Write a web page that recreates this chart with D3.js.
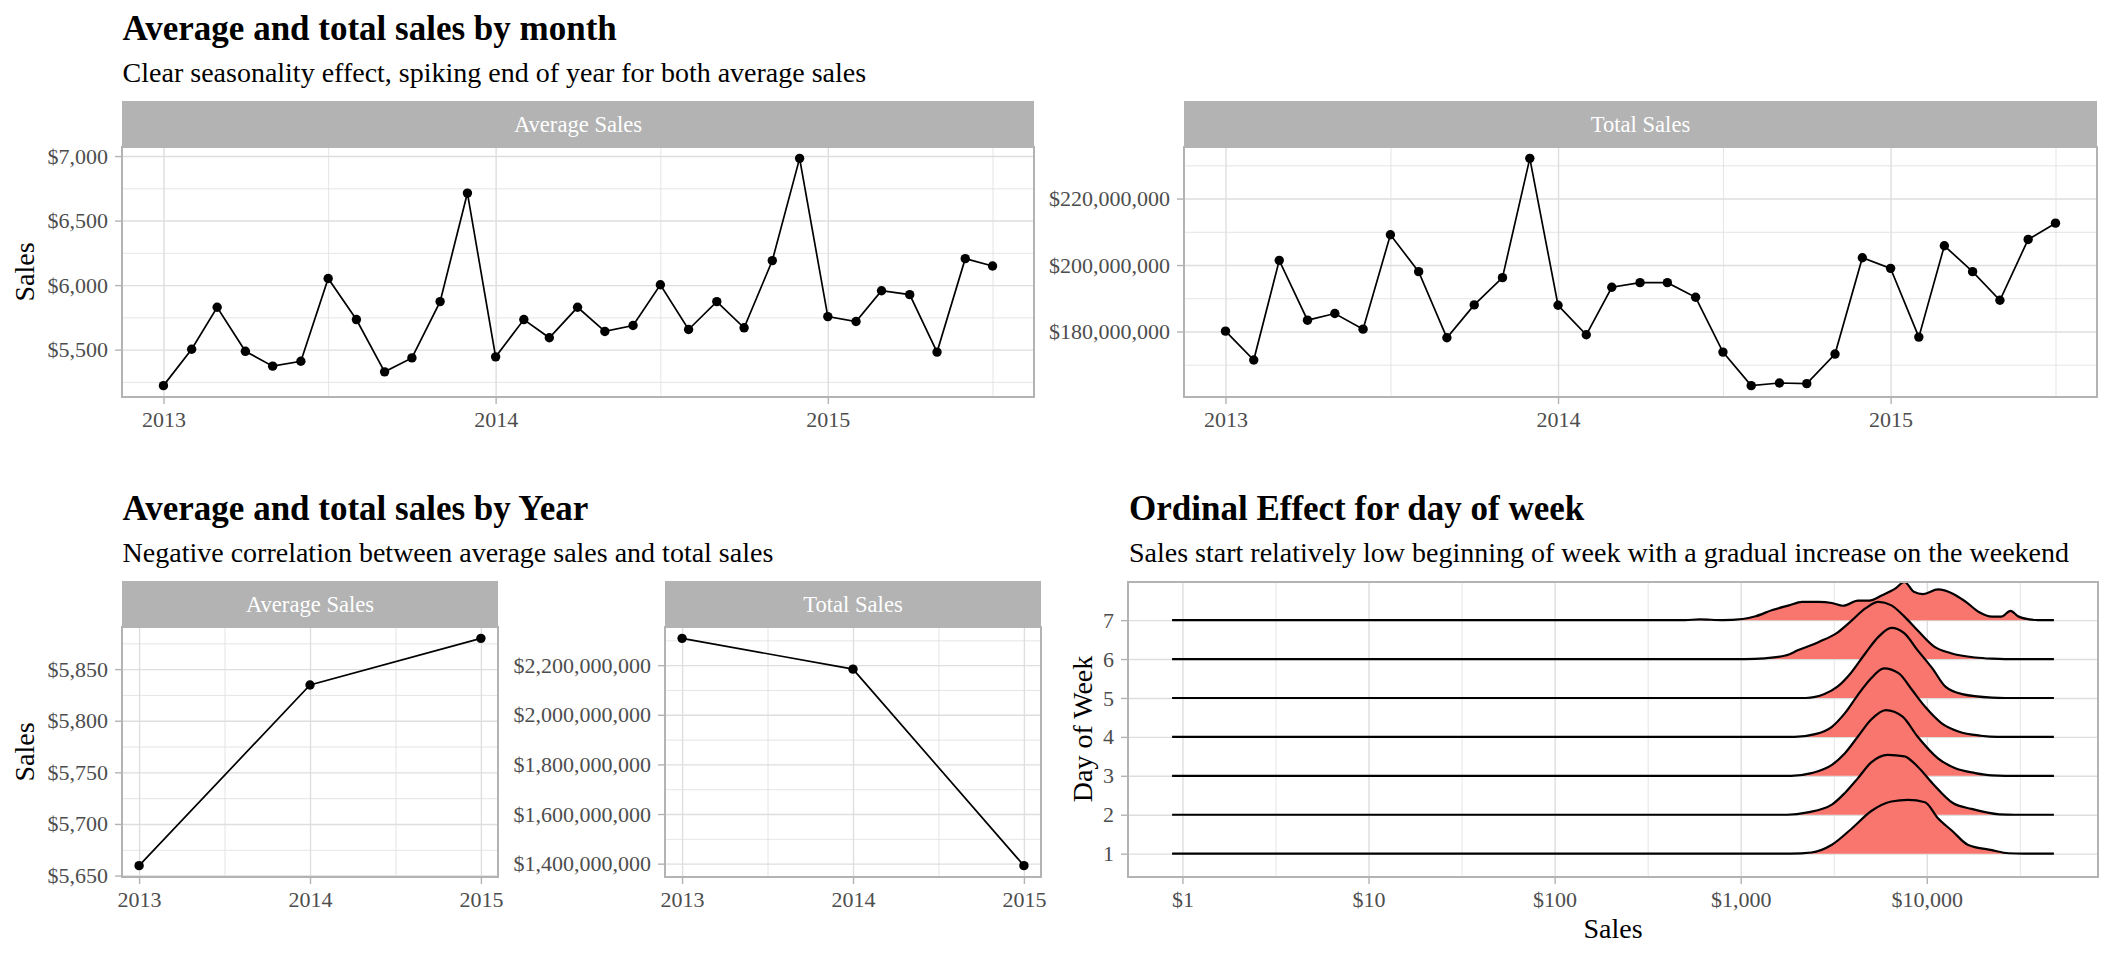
<!DOCTYPE html>
<html>
<head>
<meta charset="utf-8">
<script src="https://cdn.jsdelivr.net/npm/d3@7"></script>
<style>
  html, body { margin: 0; padding: 0; background: #fff; }
  svg { display: block; font-family: "Liberation Serif", "Times New Roman", serif; }
</style>
</head>
<body>
<svg id="chart" width="2112" height="960"></svg>
<script>
// ---- data ----
const months = [
  "2013-01","2013-02","2013-03","2013-04","2013-05","2013-06","2013-07","2013-08","2013-09","2013-10","2013-11","2013-12",
  "2014-01","2014-02","2014-03","2014-04","2014-05","2014-06","2014-07","2014-08","2014-09","2014-10","2014-11","2014-12",
  "2015-01","2015-02","2015-03","2015-04","2015-05","2015-06","2015-07"
];
const avgMonthly = [
  5221, 5503, 5828, 5487, 5372, 5410, 6051, 5733, 5328, 5436, 5872, 6713,
  5444, 5733, 5592, 5828, 5641, 5687, 6003, 5656, 5872, 5669, 6190, 6982,
  5756, 5718, 5956, 5926, 5481, 6205, 6148
];
const totalMonthly = [
  180.1e6, 171.4e6, 201.4e6, 183.4e6, 185.4e6, 180.7e6, 209.1e6, 198.0e6, 178.1e6, 188.0e6, 196.2e6, 232.1e6,
  187.9e6, 179.0e6, 193.3e6, 194.7e6, 194.7e6, 190.3e6, 173.8e6, 163.7e6, 164.5e6, 164.3e6, 173.2e6, 202.2e6,
  199.0e6, 178.3e6, 205.8e6, 198.0e6, 189.4e6, 207.7e6, 212.6e6
];
const years = [2013, 2014, 2015];
const avgYearly = [5659.6, 5834.6, 5879.8];
const totalYearly = [2.308e9, 2.184e9, 1.392e9];

const yearTicks = ["2013-01-01", "2014-01-01", "2015-01-01"];
const avgMonthTicks = [5500, 6000, 6500, 7000];
const totalMonthTicks = [180e6, 200e6, 220e6];
const avgYearTicks = [5650, 5700, 5750, 5800, 5850];
const totalYearTicks = [1.4e9, 1.6e9, 1.8e9, 2.0e9, 2.2e9];
const salesTicks = [1, 10, 100, 1000, 10000];

// day of week ridgelines: [log10(sales), height in rows]
const days = [1, 2, 3, 4, 5, 6, 7];
const salesRange = [0.88, 48200];
const dayDensity = [
  [[3.27,0],[3.38,0.03],[3.49,0.23],[3.60,0.66],[3.70,1.09],[3.81,1.34],[3.90,1.38],[3.99,1.32],[4.06,0.91],[4.14,0.57],[4.22,0.23],[4.35,0.09],[4.44,0.01],[4.52,0]],
  [[3.25,0],[3.36,0.06],[3.49,0.26],[3.56,0.56],[3.63,0.94],[3.70,1.34],[3.79,1.54],[3.88,1.50],[3.95,1.24],[4.03,0.81],[4.14,0.30],[4.24,0.15],[4.39,0.01],[4.47,0]],
  [[3.27,0],[3.38,0.07],[3.49,0.28],[3.56,0.58],[3.63,1.01],[3.70,1.44],[3.78,1.69],[3.87,1.52],[3.95,1.01],[4.06,0.45],[4.15,0.20],[4.26,0.07],[4.35,0.01],[4.42,0]],
  [[3.29,0],[3.40,0.07],[3.49,0.26],[3.56,0.61],[3.63,1.08],[3.70,1.50],[3.77,1.76],[3.85,1.63],[3.92,1.21],[3.99,0.78],[4.08,0.35],[4.17,0.14],[4.29,0.03],[4.38,0]],
  [[3.35,0],[3.45,0.10],[3.52,0.29],[3.59,0.63],[3.67,1.15],[3.74,1.57],[3.81,1.80],[3.88,1.66],[3.95,1.23],[4.03,0.76],[4.10,0.29],[4.19,0.10],[4.35,0.01],[4.42,0]],
  [[3.02,0],[3.13,0.02],[3.24,0.09],[3.31,0.23],[3.42,0.44],[3.52,0.68],[3.59,0.96],[3.67,1.30],[3.74,1.47],[3.81,1.38],[3.88,1.09],[3.95,0.74],[4.04,0.32],[4.13,0.15],[4.26,0.04],[4.35,0.01],[4.42,0]],
  [[2.70,0],[2.78,0.02],[2.90,0],[3.01,0.03],[3.08,0.10],[3.17,0.26],[3.26,0.38],[3.33,0.47],[3.42,0.47],[3.49,0.44],[3.55,0.37],[3.63,0.50],[3.69,0.50],[3.76,0.64],[3.83,0.81],[3.88,0.98],[3.93,0.73],[3.98,0.67],[4.06,0.79],[4.14,0.68],[4.21,0.47],[4.28,0.21],[4.35,0.09],[4.40,0.09],[4.45,0.24],[4.49,0.10],[4.55,0.02],[4.60,0]]
];

// ---- setup ----
const svg = d3.select("#chart");
const parseDay = d3.utcParse("%Y-%m-%d");
const parseMonth = d3.utcParse("%Y-%m");
const monthDates = months.map(parseMonth);
const fmtDollar = d3.format("$,.0f");
const GRID = "#DEDEDE", BORDER = "#B3B3B3", AXIS_TEXT = "#4D4D4D";

function expand(extent, frac) {
  const pad = (extent[1] - extent[0]) * frac;
  return [extent[0] - pad, extent[1] + pad];
}
function minorOf(major, domain) {
  const step = major[1] - major[0];
  const out = [major[0] - step / 2].concat(major.map(v => v + step / 2));
  return out.filter(v => v >= domain[0] && v <= domain[1]);
}

function styleGrid(sel, width) {
  sel.select(".domain").remove();
  sel.selectAll("line").attr("stroke", GRID).attr("stroke-width", width);
}

function drawPanel(o) {
  const g = svg.append("g");
  const h = o.y1 - o.y0, w = o.x1 - o.x0;
  // grid
  g.append("g").attr("transform", `translate(0,${o.y1})`)
    .call(d3.axisBottom(o.x).tickValues(o.xMinor).tickSize(-h).tickFormat(""))
    .call(s => styleGrid(s, 0.8));
  if (o.yMinor.length) {
    g.append("g").attr("transform", `translate(${o.x0},0)`)
      .call(d3.axisLeft(o.y).tickValues(o.yMinor).tickSize(-w).tickFormat(""))
      .call(s => styleGrid(s, 0.8));
  }
  g.append("g").attr("transform", `translate(0,${o.y1})`)
    .call(d3.axisBottom(o.x).tickValues(o.xMajor).tickSize(-h).tickFormat(""))
    .call(s => styleGrid(s, 1.4));
  g.append("g").attr("transform", `translate(${o.x0},0)`)
    .call(d3.axisLeft(o.y).tickValues(o.yMajor).tickSize(-w).tickFormat(""))
    .call(s => styleGrid(s, 1.4));

  // axes with labels
  const ax = g.append("g").attr("transform", `translate(0,${o.y1})`)
    .call(d3.axisBottom(o.x).tickValues(o.xMajor).tickSize(7).tickPadding(7).tickFormat(o.xFmt));
  const ay = g.append("g").attr("transform", `translate(${o.x0},0)`)
    .call(d3.axisLeft(o.y).tickValues(o.yMajor).tickSize(7).tickPadding(7).tickFormat(o.yFmt));
  [ax, ay].forEach(a => {
    a.select(".domain").remove();
    a.attr("font-family", null).attr("font-size", 22);
    a.selectAll("line").attr("stroke", BORDER).attr("stroke-width", 1.4);
    a.selectAll("text").attr("fill", AXIS_TEXT);
  });

  if (o.strip) {
    g.append("rect").attr("x", o.x0).attr("y", o.y0 - 46).attr("width", w).attr("height", 46)
      .attr("fill", "#B3B3B3");
    g.append("text").attr("x", (o.x0 + o.x1) / 2).attr("y", o.y0 - 23).attr("dy", "0.35em")
      .attr("text-anchor", "middle").attr("fill", "#fff").attr("font-size", 22.6).text(o.strip);
  }
  return g;
}

function drawBorder(o) {
  svg.append("rect").attr("x", o.x0).attr("y", o.y0).attr("width", o.x1 - o.x0).attr("height", o.y1 - o.y0)
    .attr("fill", "none").attr("stroke", BORDER).attr("stroke-width", 2);
}

function drawLinePoints(g, o, xs, ys) {
  const pts = xs.map((d, i) => [d, ys[i]]);
  g.append("path").datum(pts)
    .attr("fill", "none").attr("stroke", "#000").attr("stroke-width", 1.7)
    .attr("d", d3.line().x(d => o.x(d[0])).y(d => o.y(d[1])));
  g.selectAll("circle.pt").data(pts).enter().append("circle")
    .attr("cx", d => o.x(d[0])).attr("cy", d => o.y(d[1])).attr("r", 4.7).attr("fill", "#000");
}

function title(x, y, main, sub) {
  svg.append("text").attr("x", x).attr("y", y).attr("font-size", 35).attr("font-weight", "bold")
    .attr("fill", "#000").text(main);
  svg.append("text").attr("x", x).attr("y", y + 42).attr("font-size", 28).attr("fill", "#000").text(sub);
}
function yTitle(cx, cy, txt) {
  svg.append("text").attr("transform", `translate(${cx},${cy}) rotate(-90)`).attr("dy", "0.35em")
    .attr("text-anchor", "middle").attr("font-size", 28).attr("fill", "#000").text(txt);
}

// ---- top row: by month ----
const monthDomain = expand(d3.extent(monthDates).map(Number), 0.05).map(v => new Date(v));
const monthMajor = yearTicks.map(parseDay);
const monthMinor = ["2013-07-01", "2014-07-01", "2015-07-01"].map(parseDay);
const yearFmt = d3.utcFormat("%Y");

function monthPanel(x0, x1, values, ticks, strip) {
  const yDom = expand(d3.extent(values), 0.05);
  const o = {
    x0, x1, y0: 147, y1: 397, strip,
    x: d3.scaleUtc().domain(monthDomain).range([x0, x1]),
    y: d3.scaleLinear().domain(yDom).range([397, 147]),
    xMajor: monthMajor, xMinor: monthMinor,
    yMajor: ticks, yMinor: minorOf(ticks, yDom),
    xFmt: yearFmt, yFmt: fmtDollar
  };
  const g = drawPanel(o);
  drawBorder(o);
  drawLinePoints(g.append("g"), o, monthDates, values);
}
monthPanel(122, 1034, avgMonthly, avgMonthTicks, "Average Sales");
monthPanel(1184, 2097, totalMonthly, totalMonthTicks, "Total Sales");
title(122.6, 40, "Average and total sales by month", "Clear seasonality effect, spiking end of year for both average sales");
yTitle(24, 272, "Sales");

// ---- bottom left: by year ----
function yearPanel(x0, x1, values, ticks, strip) {
  const xDom = expand(d3.extent(years), 0.05);
  const yDom = expand(d3.extent(values), 0.05);
  const o = {
    x0, x1, y0: 627, y1: 877, strip,
    x: d3.scaleLinear().domain(xDom).range([x0, x1]),
    y: d3.scaleLinear().domain(yDom).range([877, 627]),
    xMajor: years, xMinor: minorOf(years, xDom),
    yMajor: ticks, yMinor: minorOf(ticks, yDom),
    xFmt: d => String(d), yFmt: fmtDollar
  };
  const g = drawPanel(o);
  drawBorder(o);
  drawLinePoints(g.append("g"), o, years, values);
}
yearPanel(122, 498, avgYearly, avgYearTicks, "Average Sales");
yearPanel(665, 1041, totalYearly, totalYearTicks, "Total Sales");
title(122.6, 520, "Average and total sales by Year", "Negative correlation between average sales and total sales");
yTitle(24, 752, "Sales");

// ---- bottom right: ridgelines by day of week ----
(function () {
  const x0 = 1128, x1 = 2098, y0 = 582, y1 = 877;
  const logDom = expand(salesRange.map(Math.log10), 0.05);
  const top = 7 + d3.max(dayDensity[6], d => d[1]);
  const o = {
    x0, x1, y0, y1,
    x: d3.scaleLog().domain(logDom.map(v => Math.pow(10, v))).range([x0, x1]),
    y: d3.scaleLinear().domain([0.4, top]).range([y1, y0]),
    xMajor: salesTicks, xMinor: salesTicks.map(v => v * Math.sqrt(10)).filter(v => v < Math.pow(10, logDom[1])),
    yMajor: days, yMinor: [],
    xFmt: fmtDollar, yFmt: d => String(d)
  };
  const g = drawPanel(o);
  const area = d3.area().curve(d3.curveMonotoneX);
  const line = d3.line().curve(d3.curveMonotoneX);
  const rg = g.append("g");
  for (let i = days.length - 1; i >= 0; i--) {
    const day = days[i];
    const pts = [[salesRange[0], 0]]
      .concat(dayDensity[i].map(d => [Math.pow(10, d[0]), d[1]]))
      .concat([[salesRange[1], 0]]);
    rg.append("path").datum(pts).attr("fill", "#F8766D")
      .attr("d", area.x(d => o.x(d[0])).y0(o.y(day)).y1(d => o.y(day + d[1])));
    rg.append("path").datum(pts).attr("fill", "none").attr("stroke", "#000").attr("stroke-width", 2.2)
      .attr("stroke-linejoin", "round")
      .attr("d", line.x(d => o.x(d[0])).y(d => o.y(day + d[1])));
  }
  drawBorder(o);
  title(1129, 520, "Ordinal Effect for day of week", "Sales start relatively low beginning of week with a gradual increase on the weekend");
  yTitle(1082, 729, "Day of Week");
  svg.append("text").attr("x", (x0 + x1) / 2).attr("y", 938).attr("text-anchor", "middle")
    .attr("font-size", 28).attr("fill", "#000").text("Sales");
})();
</script>
</body>
</html>
